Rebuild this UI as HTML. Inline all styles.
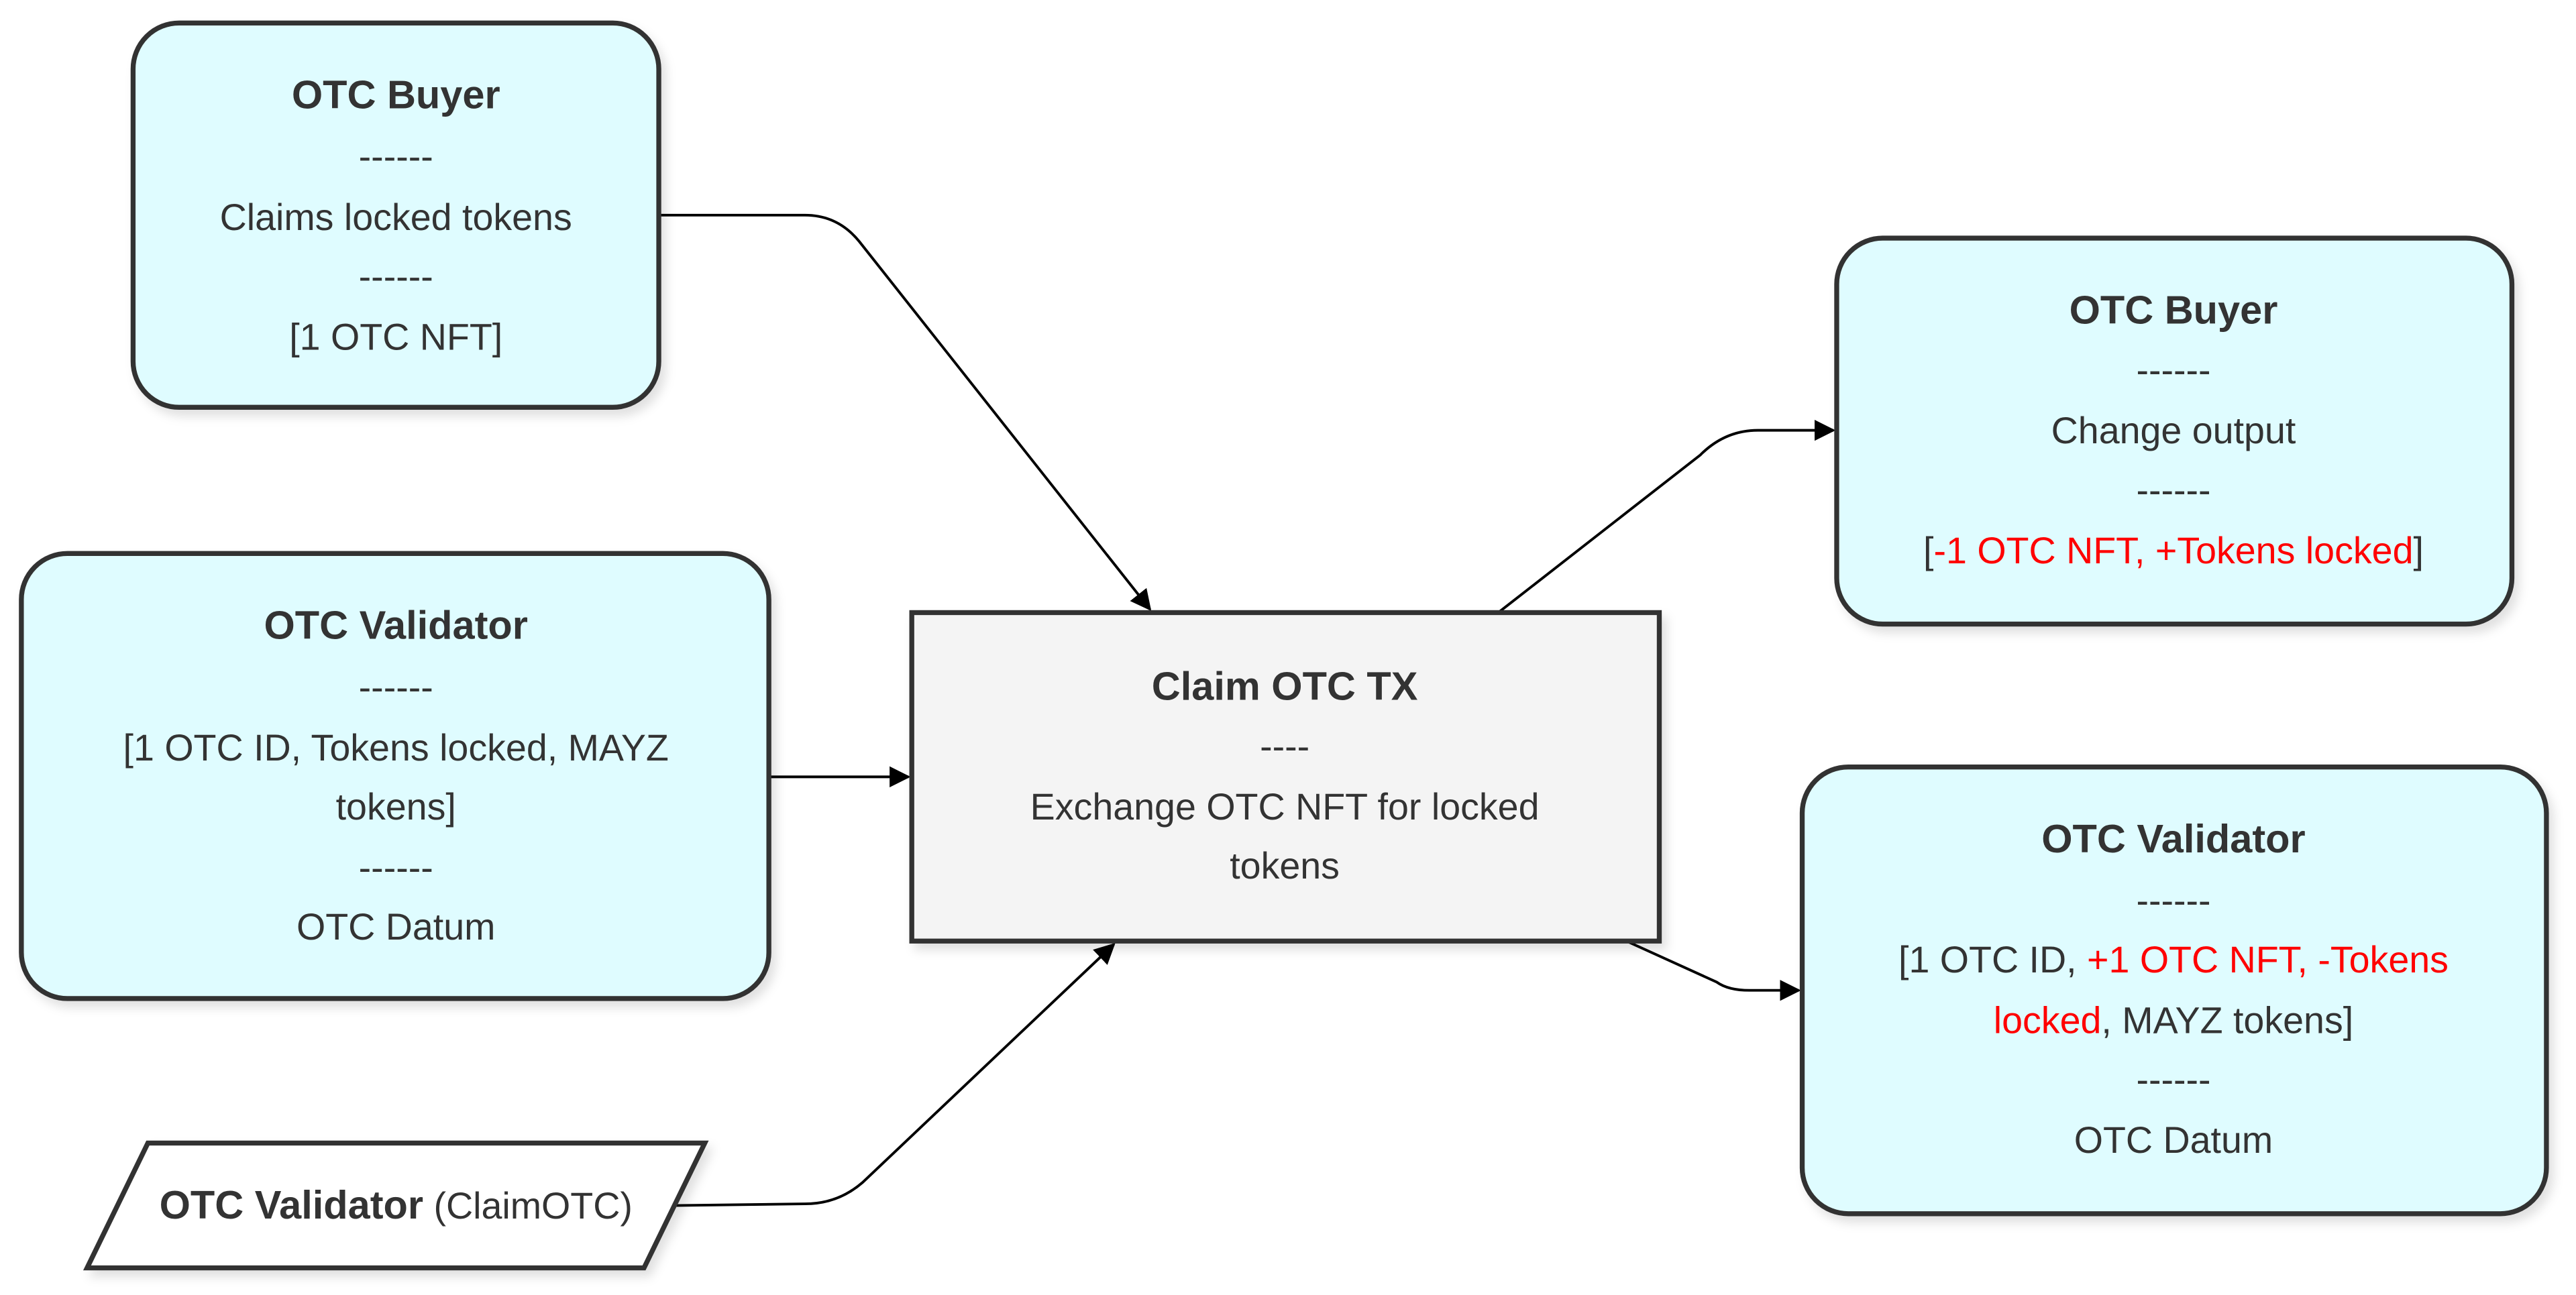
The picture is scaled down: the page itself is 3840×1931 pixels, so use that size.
<!DOCTYPE html>
<html><head><meta charset="utf-8"><style>html,body{margin:0;padding:0;background:#fff}svg{display:block}.b{font-weight:bold;font-size:24.3px}</style></head>
<body>
<svg width="3840" height="1931" viewBox="0 0 1568 788.5" xmlns="http://www.w3.org/2000/svg" font-family="Liberation Sans, Arial, sans-serif" font-size="22.7" fill="#333">
<defs>
<marker id="a" viewBox="0 0 10 10" refX="9" refY="5" markerWidth="8" markerHeight="8" orient="auto-start-reverse"><path d="M0,0L10,5L0,10z" fill="#000"/></marker>
<filter id="s" x="-10%" y="-10%" width="130%" height="130%"><feDropShadow dx="3" dy="4" stdDeviation="3" flood-color="#000" flood-opacity="0.12"/></filter>
</defs>
<g fill="none" stroke="#000" stroke-width="1.6">
<path d="M401,131 H490 Q510,131 523,147 L700,371" marker-end="url(#a)"/>
<path d="M468,473 H553" marker-end="url(#a)"/>
<path d="M411,734 L490,733 Q510,733 525,720 L678,575" marker-end="url(#a)"/>
<path d="M912,373 L1035,277 Q1050,262 1070,262 H1116" marker-end="url(#a)"/>
<path d="M990,573 L1045,598 Q1052,603 1065,603 H1095" marker-end="url(#a)"/>
</g>
<g stroke="#333" stroke-width="3" fill="#dffcff" filter="url(#s)">
<rect x="81" y="14" width="320" height="234" rx="28"/>
<rect x="13" y="337" width="455" height="271" rx="28"/>
<rect x="1118" y="145" width="411" height="235" rx="28"/>
<rect x="1097" y="467" width="453" height="272" rx="28"/>
<rect x="555" y="373" width="455" height="200" fill="#f4f4f4"/>
<path d="M90,696 H429 L392,772 H53 Z" fill="#fff"/>
</g>
<g text-anchor="middle">
<text x="241" y="66" class="b">OTC Buyer</text>
<text x="241" y="103">------</text>
<text x="241" y="140">Claims locked tokens</text>
<text x="241" y="176">------</text>
<text x="241" y="213">[1 OTC NFT]</text>

<text x="241" y="389" class="b">OTC Validator</text>
<text x="241" y="426">------</text>
<text x="241" y="463">[1 OTC ID, Tokens locked, MAYZ</text>
<text x="241" y="499">tokens]</text>
<text x="241" y="536">------</text>
<text x="241" y="572">OTC Datum</text>

<text x="241" y="742"><tspan class="b">OTC Validator</tspan> (ClaimOTC)</text>

<text x="782" y="426" class="b">Claim OTC TX</text>
<text x="782" y="462">----</text>
<text x="782" y="499">Exchange OTC NFT for locked</text>
<text x="782" y="535">tokens</text>

<text x="1323" y="197" class="b">OTC Buyer</text>
<text x="1323" y="233">------</text>
<text x="1323" y="270">Change output</text>
<text x="1323" y="306">------</text>
<text x="1323" y="343">[<tspan fill="#f00">-1 OTC NFT, +Tokens locked</tspan>]</text>

<text x="1323" y="519" class="b">OTC Validator</text>
<text x="1323" y="556">------</text>
<text x="1323" y="592">[1 OTC ID, <tspan fill="#f00">+1 OTC NFT, -Tokens</tspan></text>
<text x="1323" y="629"><tspan fill="#f00">locked</tspan>, MAYZ tokens]</text>
<text x="1323" y="665">------</text>
<text x="1323" y="702">OTC Datum</text>
</g>
</svg>
</body></html>
